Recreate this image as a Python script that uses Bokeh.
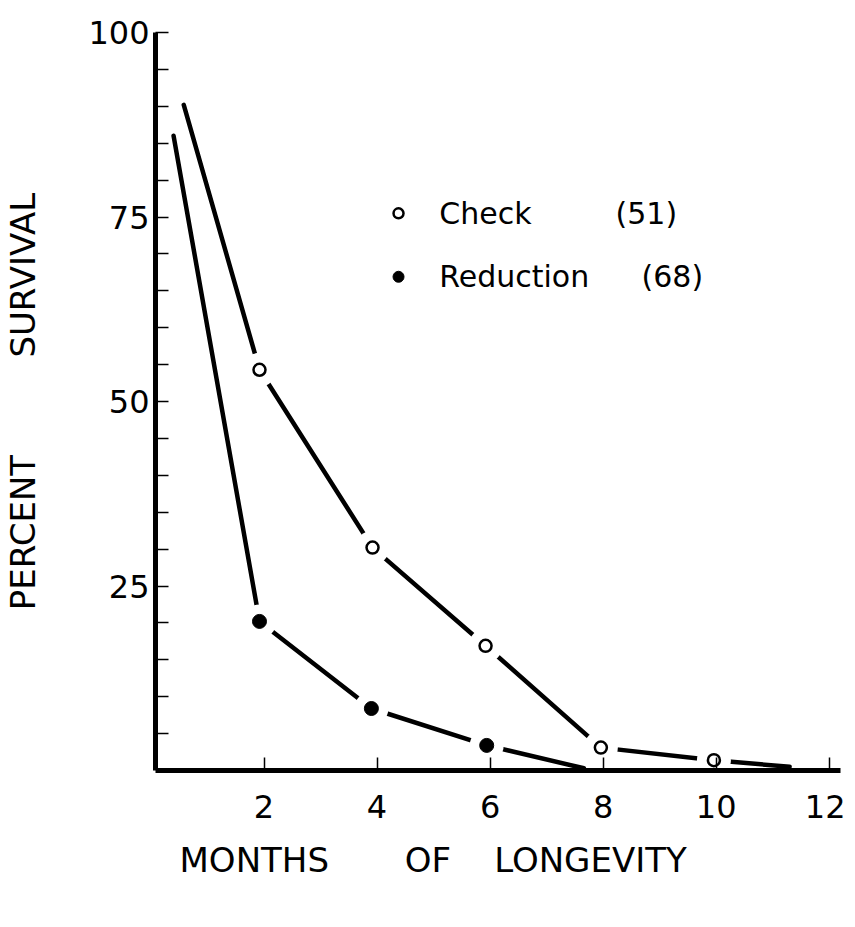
from bokeh.plotting import figure
from bokeh.models import FixedTicker, Range1d
from bokeh.core.properties import value
from bokeh.embed import file_html
from bokeh.resources import INLINE

# ---- data ----
check_months = [0.58, 1.92, 3.92, 5.92, 7.96, 9.96, 11.3]
check_survival = [90.2, 54.3, 30.2, 16.9, 3.1, 1.4, 0.5]
check_marker_months = [1.92, 3.92, 5.92, 7.96, 9.96]
check_marker_survival = [54.3, 30.2, 16.9, 3.1, 1.4]

reduction_months = [0.4, 1.92, 3.9, 5.94, 7.66]
reduction_survival = [86.0, 20.2, 8.4, 3.4, 0.3]
reduction_marker_months = [1.92, 3.9, 5.94]
reduction_marker_survival = [20.2, 8.4, 3.4]

x_ticks = [2, 4, 6, 8, 10, 12]
y_ticks = [25, 50, 75, 100]
y_minor_ticks = [5, 10, 15, 20, 30, 35, 40, 45, 55, 60, 65, 70, 80, 85, 90, 95]

legend_names = ["Check", "Reduction"]
legend_counts = ["(51)", "(68)"]
legend_x = [4.38, 4.38]
legend_y = [75.5, 66.9]

FONT = "DejaVu Sans"
NB = "\u00a0"

p = figure(width=845, height=905, output_backend="svg", toolbar_location=None,
           x_range=Range1d(0.08, 12.2), y_range=Range1d(0, 100),
           min_border_left=152, min_border_right=5, min_border_top=32,
           min_border_bottom=135)
p.outline_line_color = None
p.grid.grid_line_color = None
p.background_fill_color = "white"
p.border_fill_color = "white"

# lines
p.line(check_months, check_survival, line_width=4.5, line_color="black", line_cap="round")
p.line(reduction_months, reduction_survival, line_width=4.5, line_color="black", line_cap="round")

# white halos to create the gaps around markers
p.scatter(check_marker_months, check_marker_survival, size=34, fill_color="white",
          line_color=None)
p.scatter(reduction_marker_months, reduction_marker_survival, size=34, fill_color="white",
          line_color=None)

# markers
p.scatter(check_marker_months, check_marker_survival, size=12, fill_color="white",
          line_color="black", line_width=2.5)
p.scatter(reduction_marker_months, reduction_marker_survival, size=14, fill_color="black",
          line_color="black")

# legend drawn by hand
p.scatter([legend_x[0]], [legend_y[0]], size=10, fill_color="white", line_color="black",
          line_width=2.5)
p.scatter([legend_x[1]], [legend_y[1]], size=11, fill_color="black", line_color="black")
p.text([5.1, 5.1], legend_y, text=legend_names, text_font=value(FONT),
       text_font_size="30px", text_baseline="middle", text_align="left", text_color="black")
p.text([8.22, 8.68], legend_y, text=legend_counts, text_font=value(FONT),
       text_font_size="30px", text_baseline="middle", text_align="left", text_color="black")

# axes
for ax in (p.xaxis[0], p.yaxis[0]):
    ax.axis_line_width = 5
    ax.axis_line_color = "black"
    ax.major_tick_out = 0
    ax.major_tick_line_width = 1.5
    ax.minor_tick_out = 0
    ax.minor_tick_line_width = 1.5
    ax.major_label_text_font = FONT
    ax.major_label_text_font_size = "32px"
    ax.major_label_text_color = "black"
    ax.axis_label_text_font = FONT
    ax.axis_label_text_font_size = "34px"
    ax.axis_label_text_font_style = "normal"
    ax.axis_label_text_color = "black"

p.xaxis.ticker = FixedTicker(ticks=x_ticks)
p.xaxis.major_tick_in = 13
p.xaxis.minor_tick_in = 0
p.xaxis.major_label_standoff = 24
p.xaxis.axis_label = "MONTHS" + NB * 7 + "OF" + NB * 4 + "LONGEVITY" + NB * 12
p.xaxis.axis_label_standoff = 19

p.yaxis.ticker = FixedTicker(ticks=y_ticks, minor_ticks=y_minor_ticks)
p.yaxis.major_tick_in = 13
p.yaxis.minor_tick_in = 13
p.yaxis.major_label_standoff = 6
p.yaxis.axis_label = "PERCENT" + NB * 9 + "SURVIVAL"
p.yaxis.axis_label_standoff = 42

open("out.html", "w").write(file_html(p, INLINE))
